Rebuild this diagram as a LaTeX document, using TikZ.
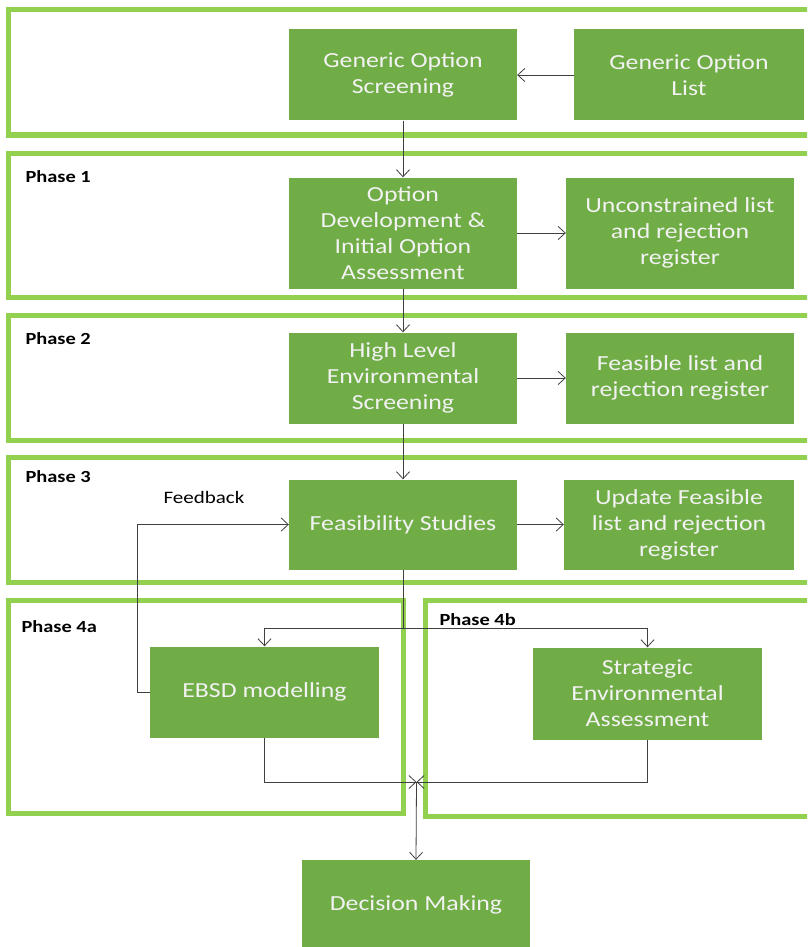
\documentclass[tikz,border=0pt]{standalone}
\usepackage{fontspec}
\setmainfont{Carlito}[FakeStretch=1.2]
\usepackage{tikz}
\usetikzlibrary{positioning, arrows.meta}
\definecolor{boxgreen}{HTML}{70AD47}
\definecolor{framegreen}{HTML}{92D050}
\definecolor{linegrey}{HTML}{404040}
\definecolor{boxtext}{HTML}{F2F2F2}
\tikzset{
    %Define style for boxes
    box/.style={
           rectangle,
           fill=boxgreen,
           text=boxtext,
           minimum width=228pt,
           minimum height=91pt,
           inner sep=2pt,
           align=center,
           font=\fontsize{21.5}{26}\selectfont},
 %
  phasebox/.style={
           draw=framegreen,
           line width=5pt},
 %
  phaselabel/.style={
           anchor=west,
           font=\fontsize{17}{20}\selectfont\bfseries},
%
    % Define arrow style
    arrow/.style={
           -{Straight Barb[length=7pt,width=13pt]},
           draw=linegrey,
           line width=0.8pt},
    plain/.style={
           draw=linegrey,
           line width=0.8pt}
}

\begin{document}
\begin{tikzpicture}[x=1pt, y=-1pt]
  \fill[white] (0,0) rectangle (807,947);
  \path[use as bounding box] (0,0) rectangle (807,947);
  \clip (0,0) rectangle (807,947);

  % phase frames
  \draw[phasebox] (8,10) rectangle (830,135);
  \draw[phasebox] (8,153) rectangle (830,297);
  \draw[phasebox] (8,315) rectangle (830,440);
  \draw[phasebox] (8,457) rectangle (830,582);
  \draw[phasebox] (8,600) rectangle (403,813);
  \draw[phasebox] (425,600) rectangle (830,816);

  \node[phaselabel] (ph1) at (22,177) {Phase 1};
  \node[phaselabel] (ph2) at (22,339) {Phase 2};
  \node[phaselabel] (ph3) at (22,477) {Phase 3};
  \node[phaselabel] (ph4a) at (18,627) {Phase 4a};
  \node[phaselabel] (ph4b) at (436,620) {Phase 4b};

  % process boxes
  \node[box] (screen) at (403,75) {Generic Option\\Screening};
  \node[box, minimum width=230pt] (list) at (689,75) {Generic Option\\List};
  \node[box, minimum height=111pt] (develop) at (403,233) {Option\\Development \&\\Initial Option\\Assessment};
  \node[box, minimum height=111pt] (unconst) at (680,233) {Unconstrained list\\and rejection\\register};
  \node[box] (envscreen) at (403,378) {High Level\\Environmental\\Screening};
  \node[box] (feaslist) at (680,378) {Feasible list and\\rejection register};
  \node[box, minimum height=90pt] (feasstudy) at (403,524.5) {Feasibility Studies};
  \node[box, minimum width=230pt, minimum height=90pt] (update) at (679,524.5) {Update Feasible\\list and rejection\\register};
  \node[box, minimum width=229pt] (ebsd) at (264.5,692) {EBSD modelling};
  \node[box, minimum width=229pt, minimum height=92pt] (sea) at (647.5,693.5) {Strategic\\Environmental\\Assessment};
  \node[box, minimum height=90pt] (decide) at (416,905) {Decision Making};

  \node[anchor=west, font=\fontsize{17.5}{20}\selectfont] (fb) at (160,497) {Feedback};

  \coordinate (fork) at (403,628);
  \coordinate (merge) at (416.5,782);

  \path
    (list) edge[arrow] (screen)
    (screen) edge[arrow] (develop)
    (develop) edge[arrow] (unconst)
    (develop) edge[arrow] (envscreen)
    (envscreen) edge[arrow] (feaslist)
    (envscreen) edge[arrow] (feasstudy)
    (feasstudy) edge[arrow] (update);

  \draw[plain] (feasstudy.south) -- (fork);
  \draw[arrow] (fork) -| (ebsd.north);
  \draw[arrow] (fork) -| (sea.north);
  \draw[arrow] (ebsd.west) -- ++(-12,0) |- (feasstudy.west);
  \draw[arrow] (ebsd.south) |- (merge);
  \draw[arrow] (sea.south) |- (merge);
  \draw[arrow] (merge) -- (decide.north);
 \end{tikzpicture}
\end{document}
